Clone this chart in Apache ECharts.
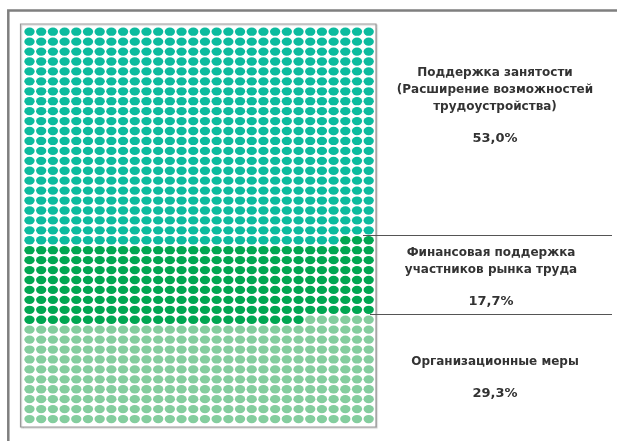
<!DOCTYPE html>
<html>
<head>
<meta charset="utf-8">
<script src="https://cdn.jsdelivr.net/npm/echarts@6/dist/echarts.min.js"></script>
<style>
  html, body { margin: 0; padding: 0; background: #fff; }
  #chart { width: 617px; height: 441px; }
</style>
</head>
<body>
<div id="chart"></div>
<script>
// ---- Data ----
const categoryNames = [
  ['Поддержка занятости', '(Расширение возможностей', 'трудоустройства)'],
  ['Финансовая поддержка', 'участников рынка труда'],
  ['Организационные меры']
];
const shareLabels = ['53,0%', '17,7%', '29,3%'];
// number of dots of each colour in the waffle grid (counted on the picture)
const dotCounts = [657, 237, 306];
const gridColumns = 30;
const gridRows = 40;
const colors = ['#0bbb9e', '#00a651', '#84cd9e'];

// ---- Build the dot series ----
const seriesData = [[], [], []];
let idx = 0;
dotCounts.forEach((count, c) => {
  for (let k = 0; k < count; k++, idx++) {
    const row = Math.floor(idx / gridColumns);
    const col = idx % gridColumns;
    seriesData[c].push([col, row]);
  }
});

const chart = echarts.init(document.getElementById('chart'), null, { renderer: 'canvas' });

const textStyleBase = {
  fontFamily: 'DejaVu Sans',
  fontWeight: 'bold',
  fontSize: 12,
  fill: '#333333',
  textAlign: 'center',
  textVerticalAlign: 'middle'
};

function labelBlock(lines, pct, cx, y0, pctY) {
  const els = lines.map((t, i) => ({
    type: 'text',
    x: cx, y: y0 + i * 17,
    style: Object.assign({ text: t }, textStyleBase)
  }));
  els.push({
    type: 'text',
    x: cx, y: pctY,
    style: Object.assign({}, textStyleBase, { text: pct, fontSize: 13 })
  });
  return els;
}

const graphics = [
  // outer frame (runs beyond the picture on right and bottom)
  { type: 'rect', shape: { x: 8.3, y: 10.5, width: 700, height: 500 },
    style: { fill: 'none', stroke: '#7f7f7f', lineWidth: 2.5 }, z: 10 },
  // separators
  { type: 'line', shape: { x1: 363, y1: 235.5, x2: 612, y2: 235.5 },
    style: { stroke: '#555555', lineWidth: 1 }, z: 10 },
  { type: 'line', shape: { x1: 370, y1: 314.5, x2: 612, y2: 314.5 },
    style: { stroke: '#555555', lineWidth: 1 }, z: 10 }
]
.concat(labelBlock(categoryNames[0], shareLabels[0], 495, 73, 139))
.concat(labelBlock(categoryNames[1], shareLabels[1], 491, 253, 302))
.concat(labelBlock(categoryNames[2], shareLabels[2], 495, 362, 394));

chart.setOption({
  animation: false,
  grid: {
    left: 20.5, top: 24, width: 355.5, height: 403,
    show: true, borderColor: '#999999', borderWidth: 1.2, backgroundColor: '#ffffff',
    shadowColor: 'rgba(0,0,0,0.2)', shadowBlur: 1, shadowOffsetX: 1, shadowOffsetY: 1
  },
  xAxis: {
    type: 'value', min: -0.769, max: 29.624, show: false
  },
  yAxis: {
    type: 'value', min: -0.775, max: 39.8, inverse: true, show: false
  },
  series: seriesData.map((d, i) => ({
    type: 'scatter',
    data: d,
    symbol: 'circle',
    symbolSize: [10.3, 8.3],
    itemStyle: { color: colors[i], opacity: 1 },
    silent: true
  })),
  graphic: graphics
});
</script>
</body>
</html>
